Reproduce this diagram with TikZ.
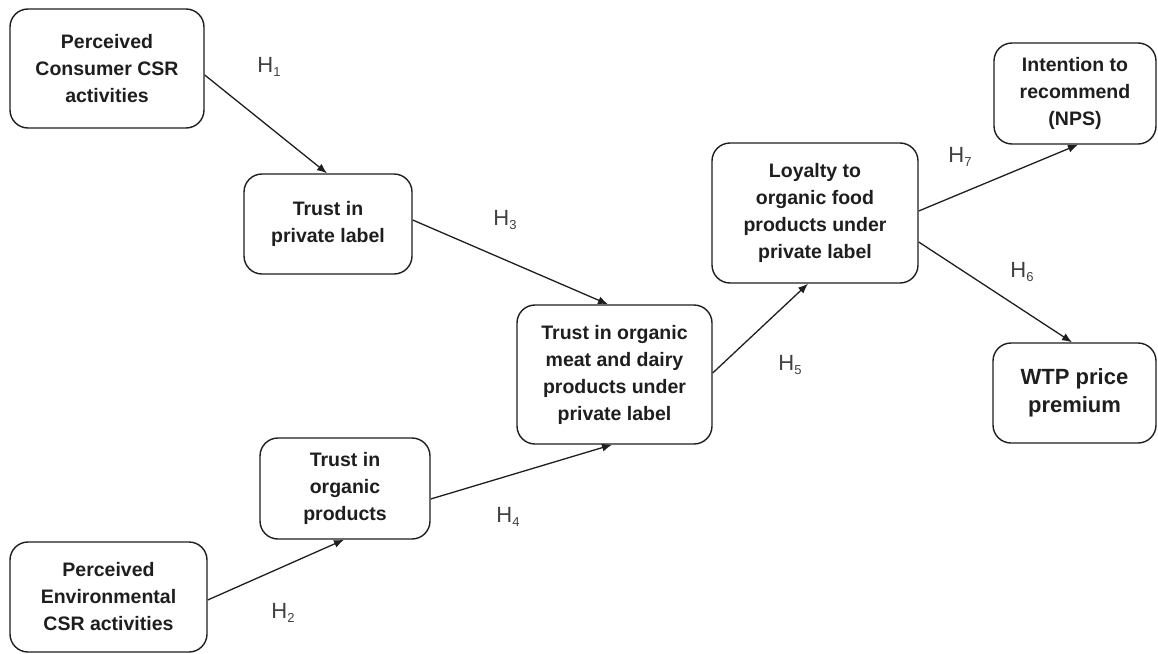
\documentclass[tikz,border=0pt]{standalone}
\usepackage{fontspec}
\setmainfont{Liberation Sans}
\usetikzlibrary{arrows.meta}
\definecolor{ink}{HTML}{1E1E1E}
\begin{document}
\begin{tikzpicture}[x=1pt,y=-1pt,
  box/.style={draw=ink, line width=1.4pt, rounded corners=18pt, align=center,
    font=\fontsize{19.5}{27}\selectfont\bfseries, text=ink, inner sep=0pt},
  arr/.style={draw=ink, line width=1.3pt, -{Latex[length=10pt,width=8pt]}},
  hyp/.style={font=\fontsize{22}{24}\selectfont, text=ink!85, inner sep=0pt}
]
\useasboundingbox (0,0) rectangle (1158,653);
\newcommand{\hy}[1]{H\raisebox{-0.35ex}{\fontsize{13}{13}\selectfont #1}}

% constructs
\node[box, minimum width=194, minimum height=119] (pc) at (107,68.5) {Perceived\\Consumer CSR\\activities};
\node[box, minimum width=168, minimum height=100] (tp) at (328,224) {Trust in\\private label};
\node[box, minimum width=195, minimum height=139] (to) at (614.5,374.5) {Trust in organic\\meat and dairy\\products under\\private label};
\node[box, minimum width=206, minimum height=140] (lo) at (815,213) {Loyalty to\\organic food\\products under\\private label};
\node[box, minimum width=162, minimum height=101] (ir) at (1075,93.5) {Intention to\\recommend\\(NPS)};
\node[box, minimum width=163, minimum height=100, font=\fontsize{22}{28}\selectfont\bfseries] (wtp) at (1074.5,393) {WTP price\\premium};
\node[box, minimum width=170, minimum height=101] (po) at (345,488.5) {Trust in\\organic\\products};
\node[box, minimum width=197, minimum height=110] (pe) at (108.5,597) {Perceived\\Environmental\\CSR activities};

% hypothesised paths
\draw[arr] ([yshift=-6.5pt]pc.east) -- ([xshift=-1pt]tp.north);
\draw[arr] ([yshift=4pt]tp.east) -- ([xshift=-6.5pt]to.north);
\draw[arr] ([yshift=-3pt]pe.east) -- ([xshift=-1pt]po.south);
\draw[arr] ([yshift=-10.5pt]po.east) -- ([xshift=-2.5pt]to.south);
\draw[arr] ([yshift=1.5pt]to.east) -- ([xshift=-7pt]lo.south);
\draw[arr] ([yshift=2pt]lo.east) -- ([xshift=3pt]ir.south);
\draw[arr] ([yshift=-29pt]lo.east) -- ([xshift=-2.5pt]wtp.north);

% path labels
\node[hyp] (h1) at (269,67) {\hy{1}};
\node[hyp] (h2) at (283,613) {\hy{2}};
\node[hyp] (h3) at (505,220) {\hy{3}};
\node[hyp] (h4) at (508,517) {\hy{4}};
\node[hyp] (h5) at (790,365) {\hy{5}};
\node[hyp] (h6) at (1022,272) {\hy{6}};
\node[hyp] (h7) at (960,157) {\hy{7}};
\end{tikzpicture}
\end{document}
